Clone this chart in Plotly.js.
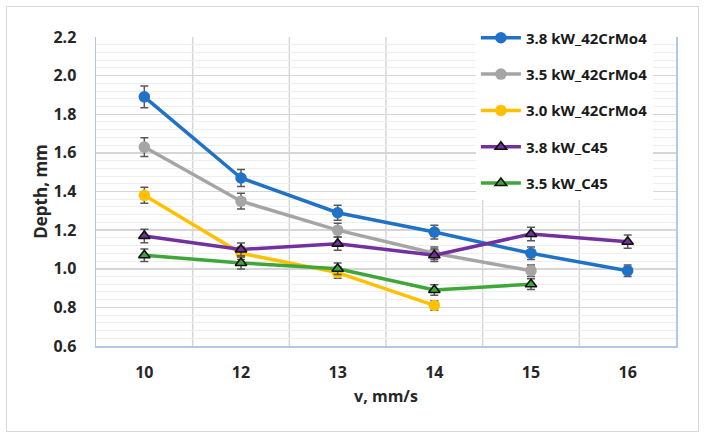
<!DOCTYPE html>
<html>
<head>
<meta charset="utf-8">
<script src="https://cdn.plot.ly/plotly-3.0.1.min.js"></script>
<style>
  html, body { margin: 0; padding: 0; background: #fff; }
  #wrap { position: relative; width: 706px; height: 439px; }
  #chart { width: 706px; height: 439px; }
  #frame { position: absolute; left: 6px; top: 6px; width: 691px; height: 424px;
           border: 1.5px solid #d9d9d9; pointer-events: none; }
</style>
</head>
<body>
<div id="wrap"><div id="chart"></div><div id="frame"></div></div>
<script>
// ---- data ----
const speeds = ["10", "12", "13", "14", "15", "16"];

const names = ["3.8 kW_42CrMo4", "3.5 kW_42CrMo4", "3.0 kW_42CrMo4", "3.8 kW_C45", "3.5 kW_C45"];

const depth38Cr = [1.89, 1.47, 1.29, 1.19, 1.08, 0.99];
const depth35Cr = [1.63, 1.35, 1.20, 1.08, 0.99, null];
const depth30Cr = [1.38, 1.08, 0.98, 0.81, null, null];
const depth38C45 = [1.17, 1.10, 1.13, 1.07, 1.18, 1.14];
const depth35C45 = [1.07, 1.03, 1.00, 0.89, 0.92, null];

const yTicks = [0.6, 0.8, 1.0, 1.2, 1.4, 1.6, 1.8, 2.0, 2.2];

// ---- styles ----
const colors = ["#1f72c6", "#a5a5a5", "#ffc000", "#7330a0", "#3fa73a"];
const series = [depth38Cr, depth35Cr, depth30Cr, depth38C45, depth35C45];
const symbols = ["circle", "circle", "circle", "triangle-up", "triangle-up"];

const traces = series.map((ys, i) => {
  const tri = symbols[i] === "triangle-up";
  return {
    type: "scatter",
    mode: "lines+markers",
    name: names[i],
    legendgroup: "g" + i,
    x: speeds,
    y: ys,
    connectgaps: false,
    line: { color: colors[i], width: 3.5 },
    marker: tri
      ? { symbol: "triangle-up", size: 10, color: colors[i], line: { color: "#111", width: 1.6 } }
      : { symbol: "circle", size: 11.5, color: colors[i], line: { width: 0 } },
    error_y: { type: "percent", value: 3, visible: true, color: "#595959", thickness: 1.5, width: 4 },
    cliponaxis: false
  };
});

// vertical grid: light lines at category centres, darker at category boundaries
const centerLines = speeds.map(s => ({
  type: "line", xref: "x", yref: "paper", x0: s, x1: s, y0: 0, y1: 1,
  line: { color: "#ececec", width: 1 }, layer: "below"
}));
const boundaryLines = speeds.slice(1).map((s, i) => ({
  type: "line", xref: "x", yref: "paper", x0: i + 0.5, x1: i + 0.5, y0: 0, y1: 1,
  line: { color: "#d6d6d6", width: 1.5 }, layer: "below"
}));

const FONT = "Open Sans, Liberation Sans, sans-serif";
const tickFont = { family: FONT, size: 16, color: "#262626", weight: "bold" };

const layout = {
  width: 706, height: 439,
  margin: { l: 96, r: 30, t: 37, b: 93 },
  paper_bgcolor: "#ffffff",
  plot_bgcolor: "#ffffff",
  showlegend: true,
  legend: {
    x: 0.655, y: 1.05, xanchor: "left", yanchor: "top",
    bgcolor: "#ffffff", borderwidth: 0,
    tracegroupgap: 13.8,
    traceorder: "grouped",
    itemwidth: 40,
    font: { family: FONT, size: 15, color: "#1a1a1a", weight: "bold" }
  },
  xaxis: {
    type: "category",
    categoryorder: "array", categoryarray: speeds,
    range: [-0.5, 5.5],
    showgrid: false,
    showline: true, linecolor: "#b4c7e7", linewidth: 1.5,
    ticks: "", ticklabelstandoff: 11,
    tickfont: tickFont,
    zeroline: false,
    title: { text: "v, mm/s", font: { family: FONT, size: 16, color: "#262626", weight: "bold" }, standoff: 9 }
  },
  yaxis: {
    range: [0.6, 2.2],
    tickvals: yTicks,
    tickformat: ".1f",
    showgrid: true, gridcolor: "#d6d6d6", gridwidth: 1.5,
    minor: { dtick: 0.04, tick0: 0.6, showgrid: true, gridcolor: "#eeeeee", gridwidth: 1 },
    showline: true, linecolor: "#b4c7e7", linewidth: 1.5, mirror: true,
    ticks: "", ticklabelstandoff: 15,
    tickfont: tickFont,
    zeroline: false,
    title: { text: "Depth, mm", font: { family: FONT, size: 17, color: "#262626", weight: "bold" }, standoff: 1 }
  },
  shapes: centerLines.concat(boundaryLines)
};

Plotly.newPlot("chart", traces, layout, { displayModeBar: false, staticPlot: true });
</script>
</body>
</html>
